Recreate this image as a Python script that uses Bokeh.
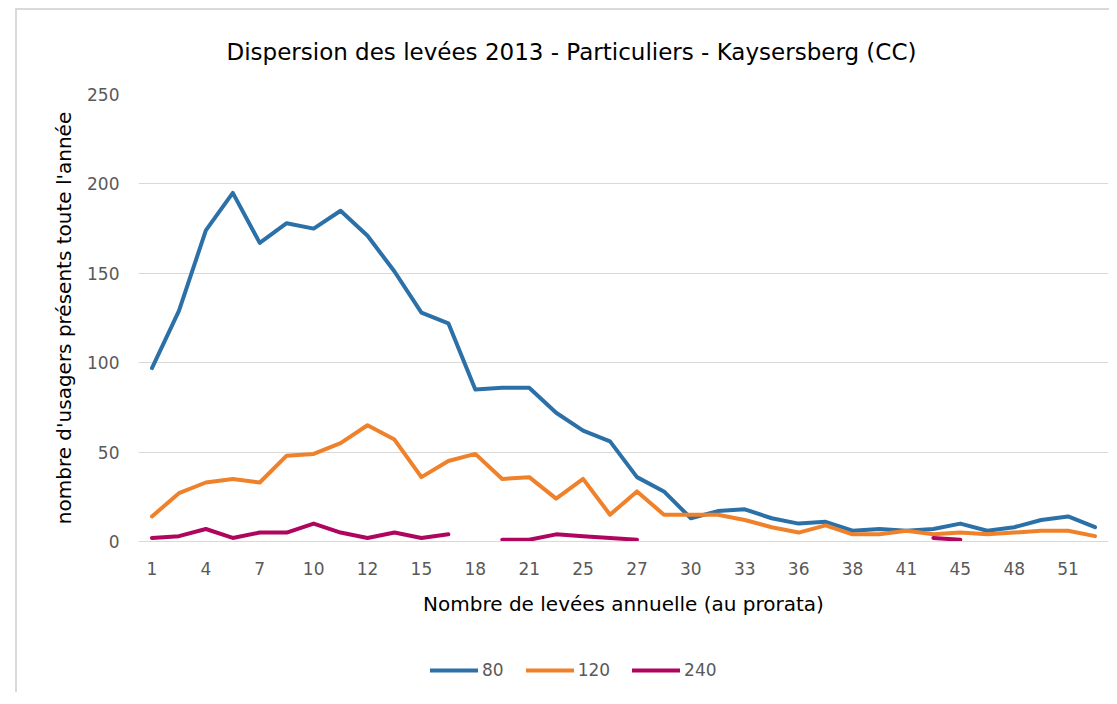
from bokeh.plotting import figure
from bokeh.layouts import column
from bokeh.models import Legend, LegendItem, FixedTicker
from bokeh.embed import file_html
from bokeh.resources import INLINE
import numpy as np

categories = ["1", "3", "4", "6", "7", "9", "10", "11", "12", "14", "15", "17", "18", "20",
              "21", "23", "25", "26", "27", "29", "30", "32", "33", "35", "36", "37", "38",
              "40", "41", "43", "45", "46", "48", "50", "51", "52"]
shown_labels = ["1", "4", "7", "10", "12", "15", "18", "21", "25", "27", "30", "33", "36",
                "38", "41", "45", "48", "51"]

s80 = [97, 129, 174, 195, 167, 178, 175, 185, 171, 151, 128, 122, 85, 86, 86, 72, 62, 56,
       36, 28, 13, 17, 18, 13, 10, 11, 6, 7, 6, 7, 10, 6, 8, 12, 14, 8]
s120 = [14, 27, 33, 35, 33, 48, 49, 55, 65, 57, 36, 45, 49, 35, 36, 24, 35, 15,
        28, 15, 15, 15, 12, 8, 5, 9, 4, 4, 6, 4, 5, 4, 5, 6, 6, 3]
s240 = [2, 3, 7, 2, 5, 5, 10, 5, 2, 5, 2, 4, None, 1, 1, 4, 3, 2,
        1, None, None, None, None, None, None, None, None, None, None, 2, 1, None, None, None, None, None]

series_names = ["80", "120", "240"]
colors = ["#2C70A8", "#F0812B", "#B0055F"]

FONT = "DejaVu Sans"
GREY = "#595959"

x_idx = list(range(len(categories)))
all_series = [s80, s120, s240]

p = figure(x_range=(-0.5, len(categories) - 0.5), y_range=(0, 250),
           frame_width=970, frame_height=447, output_backend="svg", toolbar_location=None,
           min_border_left=121, min_border_right=1, min_border_top=84, min_border_bottom=95)
p.outline_line_color = None

for name, vals, c in zip(series_names, all_series, colors):
    ys = [np.nan if v is None else v for v in vals]
    p.line(x_idx, ys, line_color=c, line_width=4, line_join="round", line_cap="round")

# title
p.title.text = "Dispersion des levées 2013 - Particuliers - Kaysersberg (CC)"
p.title.align = "left"
p.title.vertical_align = "top"
p.title.offset = 88
p.title.standoff = 55
p.title.text_font = FONT
p.title.text_font_size = "23px"
p.title.text_font_style = "normal"
p.title.text_color = "#000000"

# axes
p.yaxis.ticker = FixedTicker(ticks=[0, 50, 100, 150, 200, 250])
p.yaxis.axis_line_color = None
p.yaxis.major_tick_line_color = None
p.yaxis.major_tick_out = 0
p.yaxis.minor_tick_line_color = None
p.yaxis.major_label_text_font = FONT
p.yaxis.major_label_text_font_size = "17px"
p.yaxis.major_label_text_color = GREY
p.yaxis.major_label_standoff = 19
p.yaxis.axis_label = "nombre d'usagers présents toute l'année"
p.yaxis.axis_label_text_font = FONT
p.yaxis.axis_label_text_font_size = "20px"
p.yaxis.axis_label_text_font_style = "normal"
p.yaxis.axis_label_text_color = "#000000"
p.yaxis.axis_label_standoff = 8

p.xaxis.ticker = FixedTicker(ticks=[i for i, c in enumerate(categories) if c in shown_labels])
p.xaxis.major_label_overrides = {i: c for i, c in enumerate(categories)}
p.xaxis.axis_line_color = "#d9d9d9"
p.xaxis.major_tick_line_color = None
p.xaxis.major_tick_out = 0
p.xaxis.minor_tick_line_color = None
p.xaxis.major_label_text_font = FONT
p.xaxis.major_label_text_font_size = "17px"
p.xaxis.major_label_text_color = GREY
p.xaxis.major_label_standoff = 20
p.xaxis.axis_label = "Nombre de levées annuelle (au prorata)"
p.xaxis.axis_label_text_font = FONT
p.xaxis.axis_label_text_font_size = "20px"
p.xaxis.axis_label_text_font_style = "normal"
p.xaxis.axis_label_text_color = "#000000"
p.xaxis.axis_label_standoff = 14

p.xgrid.grid_line_color = None
p.ygrid.grid_line_color = "#d9d9d9"
p.ygrid.grid_line_width = 1

# legend strip (same series, drawn off-range so only the legend shows)
p2 = figure(width=1092, height=56, x_range=(-0.5, len(categories) - 0.5), y_range=(1000, 1001),
            x_axis_type=None, y_axis_type=None, toolbar_location=None, output_backend="svg",
            min_border=0, title=None)
p2.outline_line_color = None
p2.xgrid.visible = False
p2.ygrid.visible = False
leg_renderers = []
for name, vals, c in zip(series_names, all_series, colors):
    ys = [np.nan if v is None else v for v in vals]
    leg_renderers.append(p2.line(x_idx, ys, line_color=c, line_width=4, line_cap="round"))

legend = Legend(items=[LegendItem(label=n, renderers=[r]) for n, r in zip(series_names, leg_renderers)],
                orientation="horizontal", location=(292, 12),
                label_text_font=FONT, label_text_font_size="17px", label_text_color=GREY,
                glyph_width=48, glyph_height=20, label_standoff=4, spacing=22,
                padding=0, margin=0, border_line_color=None, background_fill_alpha=0)
p2.add_layout(legend, "center")

layout = column(p, p2, spacing=0,
                styles={"margin-left": "15px", "margin-top": "8px",
                        "border-left": "2px solid #d9d9d9", "border-top": "2px solid #d9d9d9"})

open("out.html", "w").write(file_html(layout, INLINE))
